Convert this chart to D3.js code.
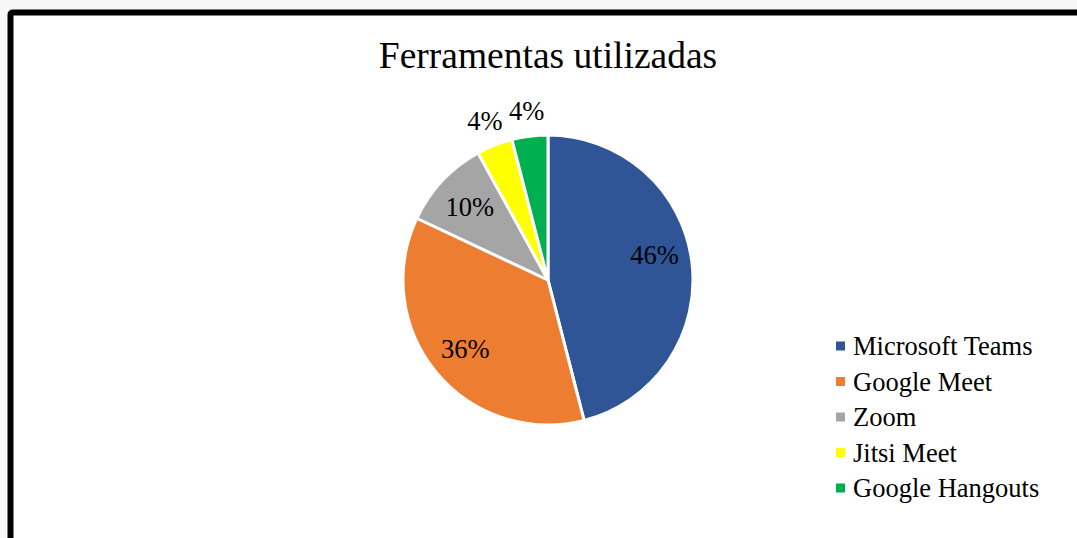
<!DOCTYPE html>
<html>
<head>
<meta charset="utf-8">
<script src="https://cdn.jsdelivr.net/npm/d3@7"></script>
<style>
  html, body { margin: 0; padding: 0; background: #f7f7f7; overflow: hidden; }
  svg { display: block; }
</style>
</head>
<body>
<div id="chart"></div>
<script>
// share of each meeting tool, in percent
const tools = ["Microsoft Teams", "Google Meet", "Zoom", "Jitsi Meet", "Google Hangouts"];
const shares = [46, 36, 10, 4, 4];
const colors = ["#2F5597", "#ED7D31", "#A5A5A5", "#FFFF00", "#00B050"];
const title = "Ferramentas utilizadas";

const W = 1077, H = 538;
const font = "'Liberation Serif', 'Times New Roman', serif";

const svg = d3.select("#chart")
  .append("svg")
  .attr("width", W)
  .attr("height", H);

// chart area with thick black frame (runs off the right/bottom edge)
svg.append("rect")
  .attr("x", 10.5).attr("y", 12.5)
  .attr("width", W + 20).attr("height", H + 20)
  .attr("rx", 2)
  .attr("fill", "#fff")
  .attr("stroke", "#000")
  .attr("stroke-width", 6);

svg.append("text")
  .attr("x", 548).attr("y", 68)
  .attr("text-anchor", "middle")
  .attr("font-family", font)
  .attr("font-size", 37.5)
  .text(title);

const cx = 548, cy = 280, r = 145;
const data = tools.map((t, i) => ({ name: t, value: shares[i], color: colors[i] }));

const pie = d3.pie().value(d => d.value).sort(null);
const arc = d3.arc().innerRadius(0).outerRadius(r);
const inLabel = d3.arc().innerRadius(r * 0.74).outerRadius(r * 0.74);
const outLabel = d3.arc().innerRadius(r * 1.18).outerRadius(r * 1.18);

const g = svg.append("g").attr("transform", `translate(${cx},${cy})`);
const arcs = pie(data);

g.selectAll("path")
  .data(arcs)
  .enter()
  .append("path")
  .attr("d", arc)
  .attr("fill", d => d.data.color)
  .attr("stroke", "#fff")
  .attr("stroke-width", 3)
  .attr("stroke-linejoin", "round");

g.selectAll(".lbl")
  .data(arcs)
  .enter()
  .append("text")
  .attr("class", "lbl")
  .attr("transform", d => `translate(${(d.data.value < 5 ? outLabel : inLabel).centroid(d)})`)
  .attr("text-anchor", "middle")
  .attr("dy", d => d.index === 0 ? "-0.1em" : "0.35em")
  .attr("font-family", font)
  .attr("font-size", 26.5)
  .text(d => d.data.value + "%");

// legend
const legend = svg.append("g").attr("transform", "translate(836,346)");
const row = legend.selectAll("g")
  .data(data)
  .enter()
  .append("g")
  .attr("transform", (d, i) => `translate(0,${i * 35.5})`);

row.append("rect")
  .attr("x", 0).attr("y", -4.5)
  .attr("width", 9).attr("height", 9)
  .attr("fill", d => d.color);

row.append("text")
  .attr("x", 17)
  .attr("dy", "0.35em")
  .attr("font-family", font)
  .attr("font-size", 26.5)
  .text(d => d.name);
</script>
</body>
</html>
